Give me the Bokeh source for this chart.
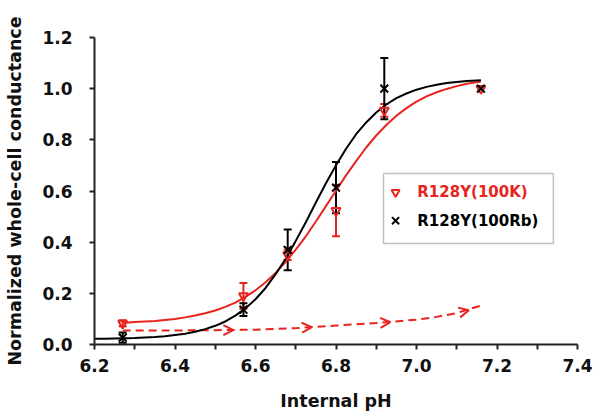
from bokeh.plotting import figure
from bokeh.models import (Range1d, Whisker, TeeHead, ColumnDataSource, Arrow, OpenHead,
                          BoxAnnotation, FixedTicker, PrintfTickFormatter)
from bokeh.core.properties import value
from bokeh.embed import file_html
from bokeh.resources import INLINE

# ---------------- data ----------------
ph = [6.27, 6.57, 6.68, 6.80, 6.92, 7.16]
k_mean = [0.083, 0.19, 0.35, 0.523, 0.915, 1.0]      # R128Y(100K)
k_err = [0.012, 0.05, 0.02, 0.10, 0.025, 0.0]
rb_mean = [0.027, 0.136, 0.37, 0.613, 1.0, 1.0]      # R128Y(100Rb)
rb_err = [0.02, 0.025, 0.08, 0.10, 0.12, 0.0]

# fitted curves
fit_k_ph = [6.27, 6.285, 6.30, 6.325, 6.35, 6.375, 6.40, 6.425, 6.45, 6.475, 6.50, 6.525,
            6.55, 6.575, 6.60, 6.625, 6.65, 6.675, 6.70, 6.725, 6.75, 6.775, 6.80, 6.825,
            6.85, 6.875, 6.90, 6.925, 6.95, 6.975, 7.00, 7.025, 7.05, 7.075, 7.10, 7.125, 7.16]
fit_k = [0.086, 0.086, 0.088, 0.090, 0.092, 0.096, 0.100, 0.106, 0.113, 0.122, 0.133, 0.147,
         0.164, 0.186, 0.212, 0.243, 0.280, 0.323, 0.371, 0.423, 0.481, 0.541, 0.601, 0.661,
         0.717, 0.770, 0.817, 0.858, 0.894, 0.924, 0.949, 0.970, 0.986, 0.999, 1.010, 1.019, 1.028]
fit_rb_ph = [6.20, 6.225, 6.25, 6.275, 6.30, 6.325, 6.35, 6.375, 6.40, 6.425, 6.45, 6.475,
             6.50, 6.525, 6.55, 6.575, 6.60, 6.625, 6.65, 6.675, 6.70, 6.725, 6.75, 6.775,
             6.80, 6.825, 6.85, 6.875, 6.90, 6.925, 6.95, 6.975, 7.00, 7.025, 7.05, 7.075,
             7.10, 7.125, 7.16]
fit_rb = [0.022, 0.022, 0.023, 0.024, 0.025, 0.027, 0.029, 0.032, 0.037, 0.042, 0.050, 0.060,
          0.073, 0.090, 0.113, 0.141, 0.177, 0.221, 0.275, 0.335, 0.405, 0.478, 0.555, 0.630,
          0.701, 0.765, 0.822, 0.868, 0.907, 0.938, 0.963, 0.981, 0.996, 1.007, 1.015, 1.022,
          1.026, 1.030, 1.033]

# dashed red trajectory with arrow heads
dash_ph = [6.27, 6.40, 6.50, 6.60, 6.70, 6.80, 6.90, 7.00, 7.05, 7.10, 7.16]
dash_y = [0.055, 0.055, 0.056, 0.058, 0.064, 0.074, 0.084, 0.097, 0.108, 0.123, 0.152]
arrow_tail_ph = [6.50, 6.70, 6.90, 7.10]
arrow_tail_y = [0.056, 0.064, 0.084, 0.123]
arrow_head_ph = [6.545, 6.74, 6.935, 7.13]
arrow_head_y = [0.056, 0.068, 0.087, 0.134]

x_ticks = [6.2, 6.4, 6.6, 6.8, 7.0, 7.2, 7.4]
x_minor = [6.3, 6.5, 6.7, 6.9, 7.1, 7.3]
y_ticks = [0.0, 0.2, 0.4, 0.6, 0.8, 1.0, 1.2]

label_k = "R128Y(100K)"
label_rb = "R128Y(100Rb)"

RED = "#e8241e"
BLACK = "#000000"
FONT = value("DejaVu Sans")

p = figure(frame_width=483, frame_height=307,
           x_range=Range1d(6.2, 7.4), y_range=Range1d(0, 1.2),
           output_backend="svg", toolbar_location=None,
           min_border_left=94, min_border_right=20, min_border_top=37, min_border_bottom=70)
p.outline_line_color = None
p.grid.visible = False
p.background_fill_color = "white"
p.border_fill_color = "white"

for ax in (p.xaxis[0], p.yaxis[0]):
    ax.axis_line_width = 2
    ax.axis_line_color = "#222222"
    ax.major_tick_line_width = 2
    ax.major_tick_line_color = "#222222"
    ax.major_tick_out = 5
    ax.major_tick_in = 0
    ax.minor_tick_line_width = 2
    ax.minor_tick_line_color = "#222222"
    ax.minor_tick_out = 5
    ax.minor_tick_in = 0
    ax.major_label_text_font = "DejaVu Sans"
    ax.major_label_text_font_style = "bold"
    ax.major_label_text_font_size = "17px"
    ax.major_label_text_color = "#111111"
    ax.axis_label_text_font = "DejaVu Sans"
    ax.axis_label_text_font_style = "bold"
    ax.axis_label_text_font_size = "17.5px"
    ax.axis_label_text_color = "#111111"
    ax.formatter = PrintfTickFormatter(format="%.1f")

p.xaxis[0].ticker = FixedTicker(ticks=x_ticks, minor_ticks=x_minor)
p.yaxis[0].ticker = FixedTicker(ticks=y_ticks, minor_ticks=[])
p.xaxis[0].axis_label = "Internal pH"
p.yaxis[0].axis_label = "Normalized whole-cell conductance"
p.xaxis[0].major_label_standoff = 9
p.yaxis[0].major_label_standoff = 17
p.xaxis[0].axis_label_standoff = 16
p.yaxis[0].axis_label_standoff = 14

# legend box (under the glyphs)
p.add_layout(BoxAnnotation(left=6.918, right=7.340, top=0.668, bottom=0.395,
                           fill_color="white", fill_alpha=1.0,
                           line_color="#333333", line_width=1.5, level="underlay"))

# dashed trajectory
p.line(dash_ph, dash_y, line_color=RED, line_width=2, line_dash="8 5")
arrow_src = ColumnDataSource(dict(xs=arrow_tail_ph, ys=arrow_tail_y,
                                  xe=arrow_head_ph, ye=arrow_head_y))
p.add_layout(Arrow(end=OpenHead(size=10, line_color=RED, line_width=2),
                   x_start="xs", y_start="ys", x_end="xe", y_end="ye",
                   source=arrow_src, line_alpha=0))

# fitted curves
p.line(fit_k_ph, fit_k, line_color=RED, line_width=2)
p.line(fit_rb_ph, fit_rb, line_color=BLACK, line_width=2)

# error bars
def err_source(xs, ms, es):
    idx = [i for i, e in enumerate(es) if e > 0]
    return ColumnDataSource(dict(x=[xs[i] for i in idx],
                                 lower=[ms[i] - es[i] for i in idx],
                                 upper=[ms[i] + es[i] for i in idx]))

p.add_layout(Whisker(base="x", lower="lower", upper="upper", source=err_source(ph, k_mean, k_err),
                     line_color=RED, line_width=2,
                     upper_head=TeeHead(size=8, line_color=RED, line_width=2),
                     lower_head=TeeHead(size=8, line_color=RED, line_width=2)))
p.add_layout(Whisker(base="x", lower="lower", upper="upper", source=err_source(ph, rb_mean, rb_err),
                     line_color=BLACK, line_width=2,
                     upper_head=TeeHead(size=8, line_color=BLACK, line_width=2),
                     lower_head=TeeHead(size=8, line_color=BLACK, line_width=2)))

# data points
p.scatter(ph, k_mean, marker="inverted_triangle", size=9, fill_color="white", fill_alpha=0.0,
          line_color=RED, line_width=2)
p.scatter(ph, rb_mean, marker="x", size=11, line_color=BLACK, line_width=2)

# legend entries (coloured labels)
p.scatter([6.948], [0.595], marker="inverted_triangle", size=8, fill_alpha=0.0,
          line_color=RED, line_width=2)
p.scatter([6.948], [0.484], marker="x", size=10, line_color=BLACK, line_width=2)
p.text([7.002], [0.595], text=[label_k], text_color=RED, text_font=FONT,
       text_font_style="bold", text_font_size="15px", text_baseline="middle")
p.text([7.002], [0.484], text=[label_rb], text_color=BLACK, text_font=FONT,
       text_font_style="bold", text_font_size="15px", text_baseline="middle")

open("out.html", "w").write(file_html(p, INLINE))
